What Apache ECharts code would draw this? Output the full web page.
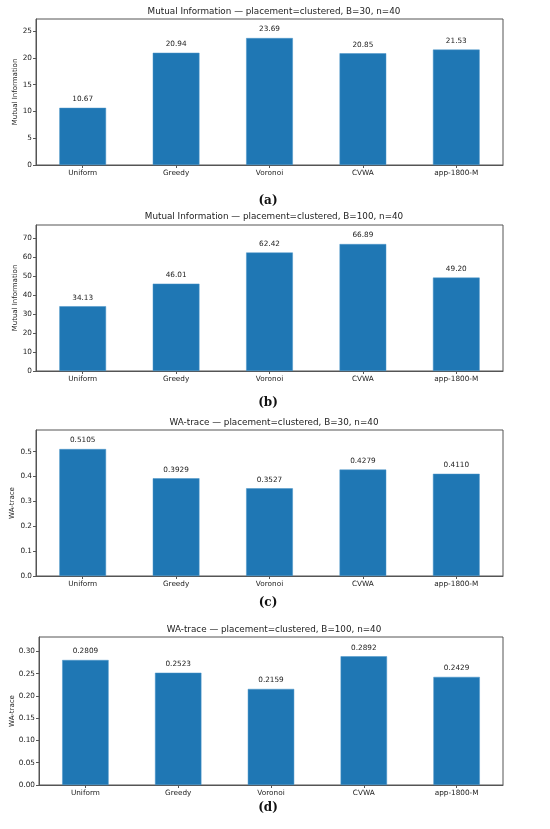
<!DOCTYPE html>
<html>
<head>
<meta charset="utf-8">
<script src="https://cdn.jsdelivr.net/npm/echarts@6/dist/echarts.min.js"></script>
<style>
html,body{margin:0;padding:0;background:#fff;}
#c{width:550px;height:829px;}
</style>
</head>
<body>
<div id="c"></div>
<script>
const categories = ['Uniform', 'Greedy', 'Voronoi', 'CVWA', 'app-1800-M'];
const miB30 = [10.67, 20.94, 23.69, 20.85, 21.53];
const miB100 = [34.13, 46.01, 62.42, 66.89, 49.20];
const waB30 = [0.5105, 0.3929, 0.3527, 0.4279, 0.4110];
const waB100 = [0.2809, 0.2523, 0.2159, 0.2892, 0.2429];
const titles = [
  'Mutual Information \u2014 placement=clustered, B=30, n=40',
  'Mutual Information \u2014 placement=clustered, B=100, n=40',
  'WA-trace \u2014 placement=clustered, B=30, n=40',
  'WA-trace \u2014 placement=clustered, B=100, n=40'
];
const yNames = ['Mutual Information', 'Mutual Information', 'WA-trace', 'WA-trace'];
const captions = ['(a)', '(b)', '(c)', '(d)'];
const intervals = [5, 10, 0.1, 0.05];

const panels = [
  {data: miB30, tickDec: 0, valDec: 2, grid: {left: 36, top: 19, width: 467, height: 146}, titleY: 12, capY: 201, gap: 17},
  {data: miB100, tickDec: 0, valDec: 2, grid: {left: 36, top: 225, width: 467, height: 146}, titleY: 217, capY: 403, gap: 17},
  {data: waB30, tickDec: 1, valDec: 4, grid: {left: 36, top: 430, width: 467, height: 146}, titleY: 423, capY: 603, gap: 20.5},
  {data: waB100, tickDec: 2, valDec: 4, grid: {left: 39, top: 637, width: 464, height: 148}, titleY: 630, capY: 808, gap: 23.5}
];

const FONT = 'DejaVu Sans';
const TXT = '#222';
const SPINE = '#555';

const option = {
  animation: false,
  backgroundColor: '#fff',
  grid: [], xAxis: [], yAxis: [], series: [], graphic: []
};

panels.forEach((p, i) => {
  option.grid.push(Object.assign({show: true, borderColor: SPINE, borderWidth: 1, backgroundColor: 'transparent',
    containLabel: false, outerBoundsMode: 'none'}, p.grid));
  option.xAxis.push({
    type: 'category', gridIndex: i, data: categories, boundaryGap: true,
    axisLine: {show: true, lineStyle: {color: SPINE, width: 1}},
    axisTick: {show: true, alignWithLabel: true, length: 3, lineStyle: {color: SPINE}},
    axisLabel: {fontFamily: FONT, fontSize: 7.3, color: TXT, margin: 5},
    splitLine: {show: false}
  });
  const mx = Math.max(...p.data) * 1.15;
  option.yAxis.push({
    type: 'value', gridIndex: i, min: 0, max: mx, interval: intervals[i],
    name: yNames[i], nameLocation: 'middle', nameGap: p.gap, nameRotate: 90, nameMoveOverlap: false,
    nameTextStyle: {fontFamily: FONT, fontSize: 7, color: TXT},
    axisLine: {show: true, lineStyle: {color: SPINE, width: 1}},
    axisTick: {show: true, length: 3, lineStyle: {color: SPINE}},
    axisLabel: {fontFamily: FONT, fontSize: 7.3, color: TXT, margin: 4, showMaxLabel: false,
      formatter: v => v.toFixed(p.tickDec)},
    splitLine: {show: false}
  });
  option.series.push({
    type: 'bar', xAxisIndex: i, yAxisIndex: i, data: p.data, barWidth: '50%',
    itemStyle: {color: '#1f77b4', borderColor: '#4a94c8', borderWidth: 0.5},
    label: {show: true, position: 'top', distance: 5, fontFamily: FONT, fontSize: 7.3, color: TXT,
      formatter: d => d.value.toFixed(p.valDec)}
  });
  option.graphic.push({
    type: 'text', x: 274, y: p.titleY,
    style: {text: titles[i], fontFamily: FONT, fontSize: 8.8, fill: TXT, align: 'center', verticalAlign: 'middle'}
  });
  option.graphic.push({
    type: 'text', x: 268, y: p.capY,
    style: {text: captions[i], fontFamily: 'DejaVu Serif', fontSize: 12, fontWeight: 'bold', fill: '#111', align: 'center', verticalAlign: 'middle'}
  });
});

const chart = echarts.init(document.getElementById('c'), null, {renderer: 'canvas'});
chart.setOption(option);
</script>
</body>
</html>
